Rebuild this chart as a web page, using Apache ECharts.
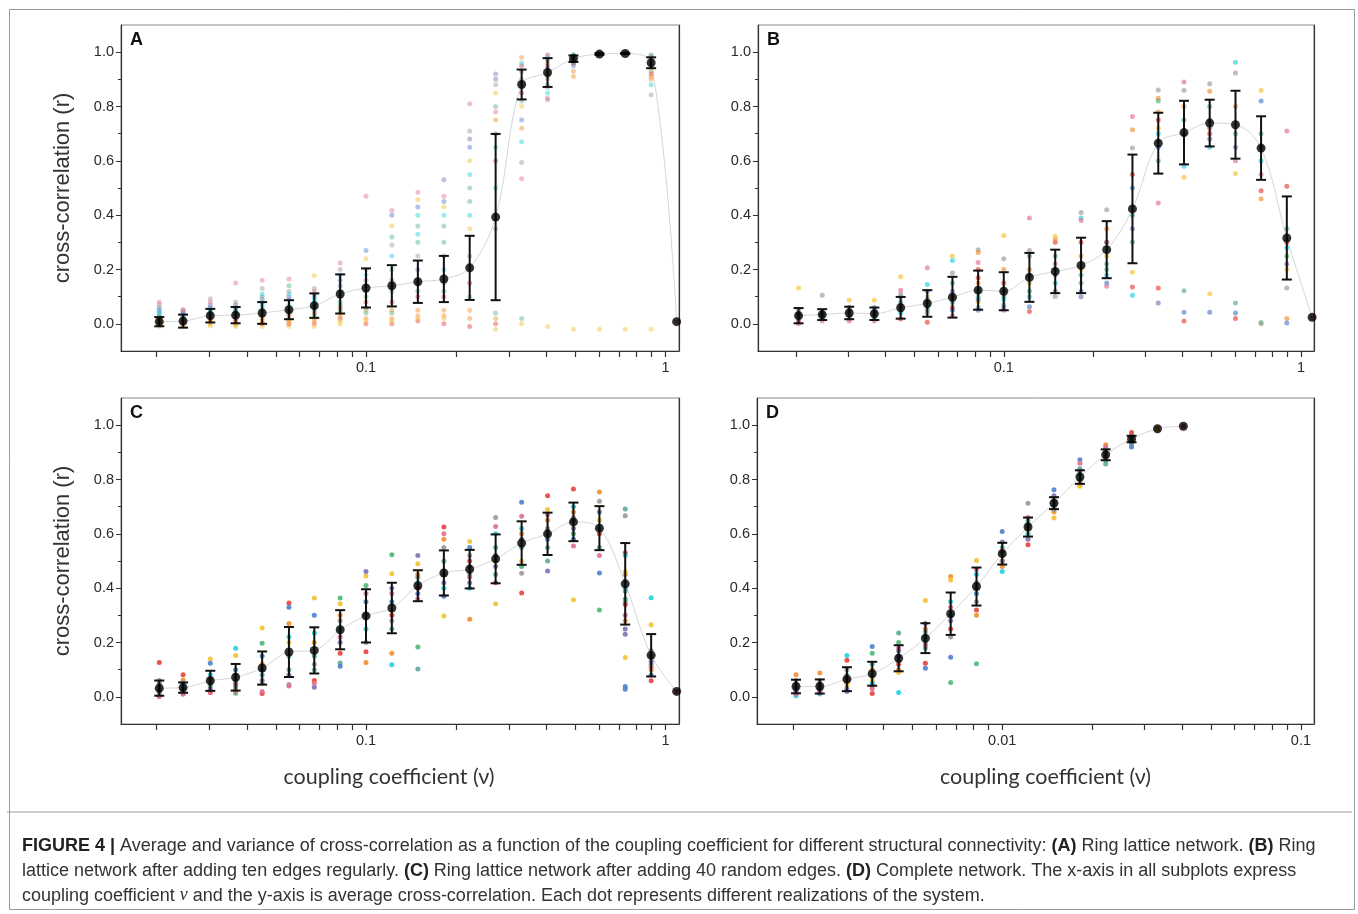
<!DOCTYPE html>
<html>
<head>
<meta charset="utf-8">
<script src="https://cdn.jsdelivr.net/npm/echarts@6/dist/echarts.min.js"></script>
<style>
  html, body { margin: 0; padding: 0; background: #fff; }
  #chart { width: 1358px; height: 914px; }
</style>
</head>
<body>
<div id="chart"></div>
<script>
// coupling coefficients (x) for panels A-C and D
const xCoupling = [0.0204, 0.0245, 0.0302, 0.0367, 0.045, 0.0553, 0.0672, 0.082, 0.1, 0.122, 0.149,
  0.182, 0.222, 0.271, 0.331, 0.404, 0.493, 0.602, 0.734, 0.896, 1.09];
const xCouplingD = [0.00204, 0.00245, 0.00302, 0.00367, 0.0045, 0.00553, 0.00672, 0.0082, 0.01, 0.0122,
  0.0149, 0.0182, 0.0222, 0.0271, 0.0331, 0.0404];

// tick labels
const xTicksWide = [0.02, 0.03, 0.04, 0.05, 0.06, 0.07, 0.08, 0.09, 0.1, 0.2, 0.3, 0.4, 0.5, 0.6, 0.7, 0.8, 0.9, 1];
const xLabelsWide = [0.1, 1];
const xTicksD = [0.002, 0.003, 0.004, 0.005, 0.006, 0.007, 0.008, 0.009, 0.01, 0.02, 0.03, 0.04, 0.05, 0.06, 0.07, 0.08, 0.09, 0.1];
const xLabelsD = [0.01, 0.1];
const yLabels = [0, 0.2, 0.4, 0.6, 0.8, 1.0];
const yMinorTicks = [0.1, 0.3, 0.5, 0.7, 0.9];

// A: ring lattice
const meanA = [0.008, 0.01, 0.03, 0.032, 0.04, 0.052, 0.067, 0.11, 0.132, 0.14, 0.155, 0.165, 0.206, 0.393, 0.881, 0.925, 0.976, 0.993, 0.995, 0.961, 0.008];
const errA = [0.017, 0.024, 0.025, 0.03, 0.04, 0.035, 0.045, 0.072, 0.072, 0.076, 0.078, 0.085, 0.118, 0.306, 0.055, 0.053, 0.012, 0.003, 0.002, 0.02, 0];
const dotsA = [
  [0.01, 0.0, -0.01, 0.02, 0.03, 0.04, 0.05, 0.06, 0.07, 0.08, 0.005, 0.015, -0.005, 0.025, 0.035, 0.045],
  [0.0, 0.01, -0.01, 0.02, 0.03, 0.035, 0.04, 0.045, 0.05, 0.053, 0.005, 0.015, -0.005, 0.025, 0.012, 0.02],
  [0.01, 0.0, -0.008, 0.03, 0.04, 0.05, 0.06, 0.07, 0.092, 0.08, 0.02, 0.015, 0.005, 0.035, 0.045, 0.055],
  [0.02, 0.0, -0.01, 0.03, 0.04, 0.05, 0.06, 0.07, 0.08, 0.15, 0.01, 0.005, -0.005, 0.035, 0.045, 0.055],
  [0.03, 0.01, -0.01, 0.05, 0.06, 0.07, 0.08, 0.1, 0.13, 0.16, 0.0, 0.02, 0.005, 0.04, 0.09, 0.11],
  [0.03, 0.01, -0.01, 0.14, 0.06, 0.07, 0.09, 0.1, 0.12, 0.165, 0.0, 0.02, 0.005, 0.04, 0.05, 0.11],
  [0.04, 0.02, 0.178, 0.06, 0.07, 0.09, 0.1, 0.11, 0.13, 0.12, 0.0, 0.01, -0.01, 0.03, 0.05, 0.08],
  [0.06, 0.04, 0.0, 0.08, 0.1, 0.12, 0.14, 0.16, 0.2, 0.224, 0.02, 0.03, 0.01, 0.05, 0.07, 0.18],
  [0.08, 0.05, 0.24, 0.1, 0.12, 0.14, 0.27, 0.16, 0.2, 0.47, 0.0, 0.02, 0.01, 0.04, 0.06, 0.18],
  [0.08, 0.05, 0.36, 0.32, 0.12, 0.14, 0.4, 0.16, 0.29, 0.417, 0.0, 0.02, 0.01, 0.04, 0.2, 0.25],
  [0.1, 0.05, 0.457, 0.3, 0.36, 0.4, 0.43, 0.2, 0.25, 0.484, 0.01, 0.03, 0.02, 0.12, 0.15, 0.33],
  [0.1, 0.05, 0.43, 0.3, 0.36, 0.4, 0.45, 0.53, 0.25, 0.47, 0.0, 0.03, 0.02, 0.12, 0.15, 0.2],
  [0.15, 0.05, 0.6, 0.45, 0.5, 0.55, 0.65, 0.68, 0.71, 0.81, -0.01, 0.02, 0.35, 0.1, 0.25, 0.4],
  [0.6, 0.75, 0.85, 0.7, 0.8, 0.65, 0.9, 0.92, 0.88, 0.78, 0.0, 0.02, -0.02, 0.04, 0.35, 0.5],
  [0.85, 0.72, 0.8, 0.88, 0.9, 0.67, 0.75, 0.93, 0.594, 0.534, 0.95, 0.98, 0.0, 0.02, 0.82, 0.96],
  [0.95, 0.9, -0.01, 0.92, 0.87, 0.85, 0.94, 0.97, 0.825, 0.83, 0.99, 0.96, 0.93, 0.88, 0.91, 0.98],
  [0.98, 0.91, -0.02, 0.97, 0.96, 0.99, 0.95, 0.98, 0.97, 0.99, 0.96, 0.93, 0.985, 0.975, 0.965, 0.99],
  [0.995, 0.99, -0.02, 0.997, 0.993],
  [0.998, 0.995, -0.02, 0.999, 0.996],
  [0.95, 0.9, -0.02, 0.97, 0.93, 0.88, 0.96, 0.99, 0.843, 0.98, 0.92, 0.91, 0.94, 0.985],
  [0.008]
];

// B: ring lattice + ten regular edges
const meanB = [0.03, 0.034, 0.04, 0.037, 0.059, 0.075, 0.098, 0.124, 0.12, 0.171, 0.193, 0.215, 0.273, 0.423, 0.665, 0.704, 0.739, 0.733, 0.647, 0.316, 0.024];
const errB = [0.028, 0.02, 0.023, 0.023, 0.04, 0.049, 0.075, 0.072, 0.07, 0.09, 0.08, 0.102, 0.105, 0.2, 0.112, 0.117, 0.086, 0.125, 0.117, 0.153, 0];
const dotsB = [
  [0.01, 0.02, 0.132, 0.03, 0.04, 0.02, 0.035, 0.03, 0.05, 0.0],
  [0.02, 0.03, 0.04, 0.025, 0.03, 0.02, 0.04, 0.035, 0.105, 0.01],
  [0.02, 0.03, 0.087, 0.05, 0.04, 0.03, 0.06, 0.045, 0.05, 0.01],
  [0.02, 0.03, 0.087, 0.04, 0.03, 0.02, 0.06, 0.05, 0.04, 0.01],
  [0.018, 0.06, 0.173, 0.05, 0.08, 0.04, 0.1, 0.07, 0.11, 0.124],
  [0.006, 0.08, 0.1, 0.06, 0.05, 0.145, 0.12, 0.09, 0.04, 0.206],
  [0.06, 0.1, 0.25, 0.15, 0.08, 0.233, 0.05, 0.12, 0.187, 0.03],
  [0.2, 0.15, 0.08, 0.1, 0.06, 0.12, 0.09, 0.05, 0.273, 0.226, 0.17, 0.263],
  [0.15, 0.2, 0.325, 0.1, 0.07, 0.09, 0.12, 0.06, 0.24, 0.05],
  [0.045, 0.2, 0.15, 0.12, 0.25, 0.1, 0.063, 0.18, 0.27, 0.39],
  [0.3, 0.31, 0.322, 0.25, 0.2, 0.15, 0.18, 0.12, 0.101, 0.22],
  [0.3, 0.25, 0.2, 0.18, 0.15, 0.39, 0.12, 0.1, 0.41, 0.38],
  [0.3, 0.35, 0.25, 0.2, 0.22, 0.18, 0.15, 0.3, 0.42, 0.138],
  [0.55, 0.714, 0.19, 0.4, 0.3, 0.105, 0.5, 0.35, 0.647, 0.763, 0.136],
  [0.132, 0.83, 0.72, 0.82, 0.6, 0.7, 0.65, 0.077, 0.861, 0.445, 0.75, 0.78],
  [0.01, 0.8, 0.54, 0.75, 0.122, 0.58, 0.043, 0.7, 0.86, 0.89],
  [0.7, 0.856, 0.111, 0.75, 0.8, 0.65, 0.043, 0.68, 0.884, 0.72],
  [0.02, 0.8, 0.553, 0.7, 0.077, 0.963, 0.04, 0.65, 0.923, 0.6],
  [0.49, 0.46, 0.859, 0.005, 0.7, 0.6, 0.82, 0.65, 0.0, 0.55],
  [0.3, 0.02, 0.2, 0.25, 0.35, 0.28, 0.003, 0.22, 0.132, 0.71, 0.506],
  [0.024]
];

// C: ring lattice + 40 random edges
const meanC = [0.032, 0.034, 0.059, 0.072, 0.106, 0.165, 0.171, 0.247, 0.298, 0.327, 0.409, 0.456, 0.47, 0.508, 0.566, 0.6, 0.644, 0.621, 0.416, 0.153, 0.02];
const errC = [0.028, 0.019, 0.037, 0.049, 0.061, 0.092, 0.085, 0.072, 0.098, 0.093, 0.057, 0.083, 0.071, 0.09, 0.08, 0.078, 0.071, 0.081, 0.15, 0.078, 0];
const dotsC = [
  [0.126, 0.03, 0.04, 0.02, 0.01, 0.03, 0.05, 0.02, 0.06, 0.0],
  [0.081, 0.062, 0.03, 0.02, 0.01, 0.04, 0.05, 0.03, 0.02, 0.01],
  [0.016, 0.06, 0.139, 0.04, 0.05, 0.08, 0.124, 0.03, 0.07, 0.02],
  [0.05, 0.08, 0.152, 0.013, 0.06, 0.179, 0.1, 0.04, 0.03, 0.02],
  [0.012, 0.12, 0.253, 0.197, 0.08, 0.1, 0.15, 0.06, 0.05, 0.02],
  [0.345, 0.27, 0.2, 0.15, 0.1, 0.22, 0.33, 0.08, 0.045, 0.04],
  [0.06, 0.2, 0.364, 0.15, 0.1, 0.235, 0.3, 0.035, 0.12, 0.05],
  [0.16, 0.3, 0.343, 0.364, 0.125, 0.25, 0.113, 0.2, 0.28, 0.22],
  [0.166, 0.126, 0.445, 0.41, 0.3, 0.25, 0.35, 0.461, 0.2, 0.38],
  [0.3, 0.16, 0.453, 0.523, 0.25, 0.118, 0.35, 0.4, 0.28, 0.38],
  [0.4, 0.45, 0.49, 0.183, 0.102, 0.42, 0.38, 0.52, 0.44, 0.36],
  [0.625, 0.58, 0.298, 0.5, 0.45, 0.4, 0.37, 0.42, 0.55, 0.6],
  [0.5, 0.286, 0.572, 0.45, 0.48, 0.4, 0.55, 0.42, 0.52, 0.44],
  [0.42, 0.5, 0.343, 0.55, 0.45, 0.6, 0.52, 0.48, 0.66, 0.627],
  [0.382, 0.6, 0.5, 0.48, 0.55, 0.62, 0.716, 0.58, 0.455, 0.665],
  [0.74, 0.65, 0.69, 0.55, 0.5, 0.6, 0.58, 0.463, 0.62, 0.67],
  [0.765, 0.68, 0.357, 0.6, 0.65, 0.7, 0.58, 0.62, 0.66, 0.555],
  [0.6, 0.754, 0.65, 0.32, 0.55, 0.62, 0.456, 0.68, 0.72, 0.52],
  [0.53, 0.45, 0.145, 0.35, 0.691, 0.4, 0.038, 0.25, 0.667, 0.3, 0.34, 0.28, 0.46, 0.36, 0.39, 0.52, 0.028, 0.23],
  [0.059, 0.1, 0.265, 0.12, 0.15, 0.365, 0.08, 0.13, 0.17, 0.11],
  [0.02]
];

// D: complete network
const meanD = [0.038, 0.038, 0.065, 0.085, 0.142, 0.216, 0.306, 0.406, 0.527, 0.625, 0.713, 0.809, 0.891, 0.949, 0.987, 0.996];
const errD = [0.025, 0.026, 0.044, 0.044, 0.048, 0.055, 0.078, 0.07, 0.04, 0.035, 0.022, 0.025, 0.02, 0.012, 0, 0];
const dotsD = [
  [0.02, 0.081, 0.03, 0.04, 0.05, 0.004, 0.02, 0.03, 0.06, 0.01],
  [0.02, 0.088, 0.03, 0.05, 0.04, 0.01, 0.02, 0.03, 0.06, 0.015],
  [0.135, 0.05, 0.04, 0.08, 0.06, 0.152, 0.03, 0.02, 0.1, 0.07],
  [0.012, 0.1, 0.06, 0.16, 0.12, 0.05, 0.185, 0.04, 0.08, 0.03],
  [0.12, 0.1, 0.09, 0.2, 0.235, 0.016, 0.15, 0.17, 0.13, 0.18],
  [0.124, 0.25, 0.355, 0.2, 0.18, 0.22, 0.105, 0.27, 0.24, 0.19],
  [0.25, 0.443, 0.43, 0.053, 0.3, 0.35, 0.146, 0.28, 0.22, 0.33],
  [0.32, 0.3, 0.502, 0.122, 0.4, 0.45, 0.38, 0.42, 0.35, 0.47],
  [0.5, 0.48, 0.52, 0.55, 0.53, 0.461, 0.609, 0.57, 0.5, 0.54],
  [0.56, 0.6, 0.62, 0.65, 0.64, 0.6, 0.63, 0.58, 0.713, 0.66],
  [0.72, 0.68, 0.658, 0.7, 0.73, 0.71, 0.762, 0.74, 0.69, 0.72],
  [0.8, 0.78, 0.775, 0.82, 0.84, 0.81, 0.873, 0.83, 0.79, 0.86],
  [0.9, 0.928, 0.88, 0.87, 0.857, 0.9, 0.91, 0.89, 0.88, 0.92],
  [0.973, 0.96, 0.95, 0.94, 0.93, 0.945, 0.92, 0.955, 0.94, 0.96],
  [0.985, 0.99, 0.98],
  [0.996]
];

// one colour per realization
const palette = ['#e8413c', '#f28e2b', '#f2c230', '#4cb878', '#5fa8a0', '#22d0e0', '#4f7fcf', '#7e72b5', '#a09890', '#e0708f'];

const captionLines = [
  '{b|FIGURE 4 |} Average and variance of cross-correlation as a function of the coupling coefficient for different structural connectivity: {b|(A)} Ring lattice network. {b|(B)} Ring',
  'lattice network after adding ten edges regularly. {b|(C)} Ring lattice network after adding 40 random edges. {b|(D)} Complete network. The x-axis in all subplots express',
  'coupling coefficient {i|ν} and the y-axis is average cross-correlation. Each dot represents different realizations of the system.'
];

let panels = [
  {letter: 'A', x: xCoupling, mean: meanA, err: errA, dots: dotsA, rect: [121, 25, 558, 326], xMin: 0.0152, xMax: 1.11, xTicks: xTicksWide, xLabels: xLabelsWide, yTitle: true, xTitle: false, titleShift: 0, opacity: 0.45},
  {letter: 'B', x: xCoupling, mean: meanB, err: errB, dots: dotsB, rect: [758, 25, 556, 326], xMin: 0.0149, xMax: 1.106, xTicks: xTicksWide, xLabels: xLabelsWide, yTitle: false, xTitle: false, titleShift: 0, opacity: 0.65},
  {letter: 'C', x: xCoupling, mean: meanC, err: errC, dots: dotsC, rect: [121, 398, 558, 326], xMin: 0.0152, xMax: 1.11, xTicks: xTicksWide, xLabels: xLabelsWide, yTitle: true, xTitle: true, titleShift: -11, opacity: 0.9},
  {letter: 'D', x: xCouplingD, mean: meanD, err: errD, dots: dotsD, rect: [757, 398, 557, 326], xMin: 0.00151, xMax: 0.1106, xTicks: xTicksD, xLabels: xLabelsD, yTitle: false, xTitle: true, titleShift: 10, opacity: 0.9}
];

function renderErrorBar(params, api) {
  let lo = api.coord([api.value(0), api.value(1)]);
  let hi = api.coord([api.value(0), api.value(2)]);
  let w = 5;
  let style = {stroke: '#111', lineWidth: 2};
  return {
    type: 'group',
    children: [
      {type: 'line', shape: {x1: lo[0], y1: lo[1], x2: hi[0], y2: hi[1]}, style: style},
      {type: 'line', shape: {x1: lo[0] - w, y1: lo[1], x2: lo[0] + w, y2: lo[1]}, style: style},
      {type: 'line', shape: {x1: hi[0] - w, y1: hi[1], x2: hi[0] + w, y2: hi[1]}, style: style}
    ]
  };
}

let grids = [], xAxes = [], yAxes = [], series = [], graphics = [];
let axisColor = '#333';
let labelFont = {fontFamily: 'Liberation Sans', fontSize: 14.5, color: '#2a2a2a'};

panels.forEach(function (p, i) {
  grids.push({left: p.rect[0], top: p.rect[1], width: p.rect[2], height: p.rect[3], show: true, borderColor: '#8a8a8a', borderWidth: 1});
  let shift = p.titleShift;
  xAxes.push({
    type: 'log', logBase: 10, gridIndex: i, min: p.xMin, max: p.xMax, position: 'bottom',
    axisLine: {show: true, onZero: false, lineStyle: {color: axisColor, width: 1.2}},
    axisTick: {show: true, inside: false, customValues: p.xTicks, length: 6, lineStyle: {color: axisColor, width: 1.2}},
    axisLabel: Object.assign({customValues: p.xLabels, margin: 9, formatter: function (v) { return String(+Number(v).toPrecision(3)); }}, labelFont),
    splitLine: {show: false},
    name: p.xTitle ? 'coupling coefficient (ν)' : '',
    nameLocation: 'middle', nameGap: 42,
    nameTextStyle: {
      fontFamily: 'Lato', fontSize: 21.5, color: '#333',
      padding: [0, shift < 0 ? -2 * shift : 0, 0, shift > 0 ? 2 * shift : 0]
    }
  });
  yAxes.push({
    type: 'value', gridIndex: i, min: -0.1, max: 1.1, position: 'left',
    axisLine: {show: true, onZero: false, lineStyle: {color: axisColor, width: 1.2}},
    axisTick: {show: true, customValues: yLabels, length: 5, lineStyle: {color: axisColor}},
    axisLabel: Object.assign({customValues: yLabels, margin: 7, formatter: function (v) { return Number(v).toFixed(1); }}, labelFont),
    splitLine: {show: false},
    name: p.yTitle ? 'cross-correlation (r)' : '',
    nameLocation: 'middle', nameRotate: 90, nameGap: 47,
    nameTextStyle: {fontFamily: 'Liberation Sans', fontSize: 22, color: '#333'}
  });
  yAxes.push({
    type: 'value', gridIndex: i, min: -0.1, max: 1.1, position: 'left',
    axisLine: {show: false, onZero: false},
    axisTick: {show: true, customValues: yMinorTicks, length: 3, lineStyle: {color: axisColor}},
    axisLabel: {show: false},
    splitLine: {show: false}
  });
  yAxes.push({
    type: 'value', gridIndex: i, min: -0.1, max: 1.1, position: 'right',
    axisLine: {show: true, onZero: false, lineStyle: {color: axisColor, width: 1.2}},
    axisTick: {show: false}, axisLabel: {show: false}, splitLine: {show: false}
  });

  let yIdx = i * 3;
  let means = p.x.map(function (x, k) { return [x, p.mean[k]]; });
  let dots = [];
  p.dots.forEach(function (col, k) {
    col.forEach(function (v, j) {
      dots.push({value: [p.x[k], v], itemStyle: {color: palette[j % palette.length], opacity: p.opacity}});
    });
  });
  let bars = [];
  p.x.forEach(function (x, k) {
    if (p.err[k] > 0) bars.push([x, p.mean[k] - p.err[k], p.mean[k] + p.err[k]]);
  });

  series.push({
    type: 'line', xAxisIndex: i, yAxisIndex: yIdx, data: means, smooth: 0.35, showSymbol: false,
    lineStyle: {color: '#d6d6d6', width: 1}, z: 1, silent: true
  });
  series.push({
    type: 'scatter', xAxisIndex: i, yAxisIndex: yIdx, data: dots, symbolSize: 5, z: 2, silent: true
  });
  series.push({
    type: 'custom', xAxisIndex: i, yAxisIndex: yIdx, data: bars, renderItem: renderErrorBar,
    encode: {x: 0, y: [1, 2]}, z: 3, silent: true
  });
  series.push({
    type: 'scatter', xAxisIndex: i, yAxisIndex: yIdx, data: means, symbolSize: 9,
    itemStyle: {color: '#000'}, z: 4, silent: true
  });

  graphics.push({
    type: 'text', left: p.rect[0] + 9, top: p.rect[1] + 6,
    style: {text: p.letter, font: 'bold 18px "Liberation Sans"', fill: '#111'}
  });
});

graphics.push({
  type: 'rect', left: 7, top: 7, shape: {width: 1345, height: 900},
  style: {fill: 'none', stroke: '#9a9a9a', lineWidth: 1}, z: -1
});
graphics.push({
  type: 'line', shape: {x1: 7, y1: 812, x2: 1352, y2: 812},
  style: {stroke: '#9a9a9a', lineWidth: 1}, z: -1
});
graphics.push({
  type: 'text', left: 22, top: 834,
  style: {
    text: captionLines.join('\n'),
    font: '18px "Liberation Sans"', fill: '#333', lineHeight: 24.7,
    rich: {
      b: {fontWeight: 'bold', fontSize: 18, fontFamily: '"Liberation Sans Narrow", "Liberation Sans"', fill: '#222', lineHeight: 24.7},
      i: {fontStyle: 'italic', fontSize: 18, fontFamily: 'Liberation Serif', fill: '#333', lineHeight: 24.7}
    }
  }
});

let chart = echarts.init(document.getElementById('chart'), null, {renderer: 'canvas'});
chart.setOption({
  animation: false,
  backgroundColor: '#fff',
  grid: grids,
  xAxis: xAxes,
  yAxis: yAxes,
  series: series,
  graphic: graphics
});
</script>
</body>
</html>
